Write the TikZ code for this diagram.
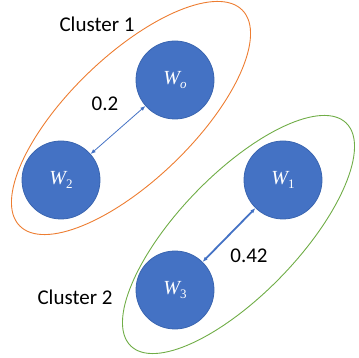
\documentclass[tikz,border=0pt]{standalone}
\usepackage{fontspec}
\setmainfont{Carlito}
\newfontfamily\wfont{Liberation Serif}
\usetikzlibrary{shapes.geometric,arrows.meta}
\definecolor{offblue}{HTML}{4472C4}
\definecolor{offblueb}{HTML}{3A65B0}
\definecolor{offorange}{HTML}{ED7D31}
\definecolor{offgreen}{HTML}{70AD47}
\newcommand{\wlab}[1]{\wfont\itshape W\raisebox{-4pt}{\fontsize{13}{15}\selectfont #1}}
\begin{document}
\begin{tikzpicture}[x=1pt,y=-1pt,
  wnode/.style={circle,fill=offblue,draw=offblueb,line width=0.8pt,minimum size=78pt,inner sep=0pt,text=white,font=\fontsize{20}{24}\selectfont},
  clusterell/.style={ellipse,draw,line width=0.9pt,inner sep=0pt},
  lbl/.style={inner sep=0pt,font=\fontsize{21}{25}\selectfont},
  link/.style={draw=offblue,{Latex[length=5pt,width=4pt]}-{Latex[length=5pt,width=4pt]}}
]
\useasboundingbox (0,0) rectangle (359,358);
\node[clusterell,draw=offorange,minimum width=310pt,minimum height=124pt,rotate=44] (c1) at (131,118) {};
\node[clusterell,draw=offgreen,minimum width=310pt,minimum height=120pt,rotate=46] (c2) at (238.5,234.5) {};
\node[wnode] (Wo) at (175,80) {\wlab{o}};
\node[wnode] (W2) at (61,180) {\wlab{\upshape 2}};
\node[wnode] (W1) at (283,180) {\wlab{\upshape 1}};
\node[wnode] (W3) at (175,290) {\wlab{\upshape 3}};
\draw[link,line width=0.8pt] (W2) -- (Wo);
\draw[link,line width=1.8pt] (W3) -- (W1);
\node[lbl] (l1) at (97,24) {Cluster 1};
\node[lbl] (l2) at (75,297) {Cluster 2};
\node[lbl] (n1) at (105,104) {0.2};
\node[lbl] (n2) at (249,256) {0.42};
\end{tikzpicture}
\end{document}
